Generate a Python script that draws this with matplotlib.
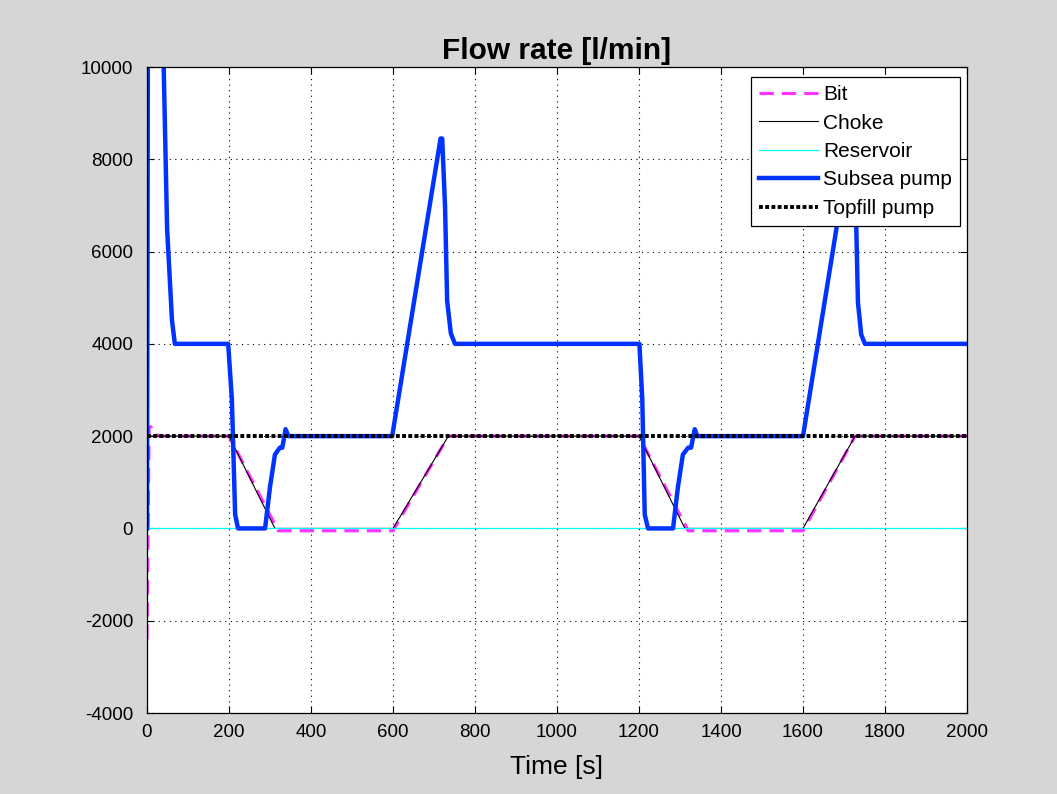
import matplotlib
matplotlib.use("Agg")
import matplotlib.pyplot as plt

plt.rcParams['font.family'] = ['Liberation Sans', 'DejaVu Sans']
plt.rcParams['axes.unicode_minus'] = False

# Bit (magenta, dashed)
bit_t = [0, 5, 10, 20, 30, 200, 320, 600, 735, 1200, 1320, 1600, 1727, 2000]
bit_v = [-2400, 2200, 2200, 2050, 2000, 2000, -50, -50, 2000, 2000, -50, -50, 2000, 2000]

# Choke (black thin)
choke_t = [0, 200, 312, 600, 735, 1200, 1312, 1600, 1727, 2000]
choke_v = [2000, 2000, 0, 0, 2000, 2000, 0, 0, 2000, 2000]

# Reservoir (cyan)
res_t = [0, 2000]
res_v = [0, 0]

# Subsea pump (blue, thick)
sub_t = [0, 4, 30, 40, 49, 61, 68, 198, 207, 215, 222, 288, 300, 312, 324, 330, 338,
         345, 598, 716, 720, 727, 732, 741, 751, 1201, 1208, 1214, 1222, 1283, 1295,
         1307, 1320, 1327, 1336, 1342, 1600, 1716, 1720, 1729, 1734, 1742, 1751, 2000]
sub_v = [0, 20000, 13000, 10300, 6500, 4500, 4000, 4000, 2800, 300, 0, 0, 900, 1600,
         1750, 1750, 2150, 2000, 2000, 8450, 8450, 6960, 4940, 4230, 4000, 4000, 2800,
         300, 0, 0, 900, 1600, 1750, 1750, 2150, 2000, 2000, 8400, 8400, 6900, 4900,
         4200, 4000, 4000]

# Topfill pump (black, dotted)
top_t = [0, 2000]
top_v = [2000, 2000]

fig = plt.figure(figsize=(10.57, 7.94), dpi=100, facecolor='#d6d6d6')
ax = fig.add_axes([147 / 1057, 1 - 713 / 794, 820 / 1057, 646 / 794])

ax.plot(bit_t, bit_v, color='#ff33ff', lw=2.3, dashes=(4.5, 2.5), label='Bit')
ax.plot(choke_t, choke_v, color='black', lw=0.8, label='Choke')
ax.plot(res_t, res_v, color='cyan', lw=0.9, label='Reservoir')
ax.plot(sub_t, sub_v, color='#0033ff', lw=3.2, label='Subsea pump')
ax.plot(top_t, top_v, color='black', lw=2.8, dashes=(1, 0.6), label='Topfill pump')

ax.set_xlim(0, 2000)
ax.set_ylim(-4000, 10000)
ax.set_xticks(range(0, 2001, 200))
ax.set_yticks(range(-4000, 10001, 2000))
ax.grid(True, color='black', linestyle=(0, (1, 4)), linewidth=0.8)
ax.tick_params(direction='in', top=True, right=True, labelsize=13.5, length=5)
ax.tick_params(axis='x', pad=8)
ax.tick_params(axis='y', pad=10)
for s in ax.spines.values():
    s.set_linewidth(0.9)

ax.set_title('Flow rate [l/min]', fontsize=21.5, fontweight='bold', pad=6)
ax.set_xlabel('Time [s]', fontsize=19, labelpad=10)

leg = ax.legend(loc='upper right', bbox_to_anchor=(0.9915, 0.9845), borderaxespad=0,
                fontsize=15, handlelength=2.8, labelspacing=0.45, handletextpad=0.25,
                fancybox=False, framealpha=1, edgecolor='black', borderpad=0.4)
leg.get_frame().set_linewidth(0.9)

fig.savefig('out.png', dpi=100, facecolor=fig.get_facecolor())
